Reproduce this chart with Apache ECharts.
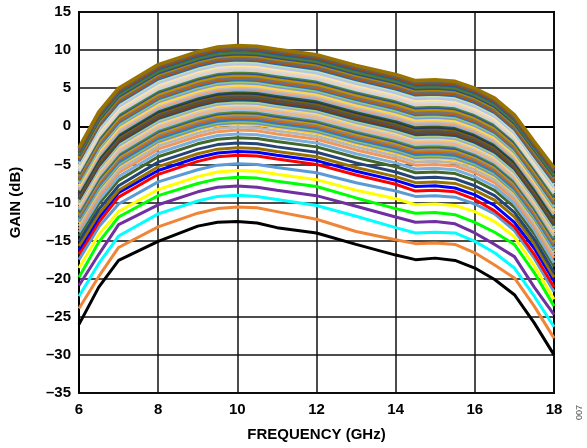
<!DOCTYPE html>
<html><head><meta charset="utf-8">
<script src="https://cdn.jsdelivr.net/npm/echarts@6/dist/echarts.min.js"></script>
<style>html,body{margin:0;padding:0;background:#fff}#c{width:587px;height:448px}</style>
</head><body><div id="c"></div>
<script>
const freqGHz = [6, 6.5, 7, 8, 9, 9.5, 10, 10.5, 11, 12, 13, 14, 14.5, 15, 15.5, 16, 16.5, 17, 17.5, 18];
const xTicks = [6, 8, 10, 12, 14, 16, 18];
const yTicks = [-35, -30, -25, -20, -15, -10, -5, 0, 5, 10, 15];
const xTitle = 'FREQUENCY (GHz)';
const yTitle = 'GAIN (dB)';
const figNote = '007';

// gain states, lowest (s01) to highest (s64), dB at freqGHz
const gainS01 = [-26.0, -21.1, -17.6, -15.1, -13.1, -12.6, -12.5, -12.7, -13.3, -14.0, -15.5, -16.9, -17.5, -17.3, -17.6, -18.6, -20.1, -22.1, -25.8, -30.0];
const gainS02 = [-23.9, -19.7, -15.9, -13.2, -11.4, -10.8, -10.6, -10.7, -11.2, -12.2, -13.8, -14.9, -15.4, -15.3, -15.5, -16.6, -18.2, -19.9, -23.6, -27.8];
const gainS03 = [-22.3, -18.0, -14.4, -11.5, -9.8, -9.2, -9.05, -9.2, -9.6, -10.4, -11.8, -13.3, -14.0, -13.9, -14.0, -15.1, -16.6, -18.6, -22.3, -26.3];
const gainS04 = [-20.9, -16.8, -12.9, -10.3, -8.6, -8.0, -7.85, -8.0, -8.4, -9.1, -10.5, -11.9, -12.6, -12.5, -12.8, -14.0, -15.5, -17.1, -21.1, -24.7];
const gainS05 = [-19.8, -15.2, -11.9, -9.1, -7.5, -6.9, -6.7, -6.8, -7.2, -7.9, -9.4, -10.8, -11.4, -11.3, -11.6, -12.6, -13.9, -15.5, -19.2, -23.6];
const gainS06 = [-18.6, -14.2, -11.2, -8.3, -6.6, -6.0, -5.8, -5.9, -6.3, -7.0, -8.4, -9.5, -10.3, -10.2, -10.4, -11.2, -12.5, -14.5, -18.3, -22.7];
const gainS07 = [-17.5, -13.2, -10.2, -7.3, -5.7, -5.1, -4.9, -5.0, -5.4, -6.1, -7.4, -8.5, -9.2, -9.1, -9.3, -10.2, -11.5, -13.7, -17.3, -21.7];
const gainS08 = [-16.8, -12.6, -9.3, -6.3, -4.6, -4.0, -3.8, -3.9, -4.3, -5.0, -6.4, -7.6, -8.5, -8.4, -8.6, -9.6, -11.1, -13.2, -16.8, -21.1];
const gainS09 = [-16.2, -12.0, -8.7, -5.8, -4.1, -3.5, -3.3, -3.4, -3.8, -4.5, -5.9, -7.1, -7.9, -7.8, -8.1, -9.0, -10.4, -12.6, -16.0, -20.3];
const gainS10 = [-15.7, -11.5, -8.4, -5.3, -3.6, -3.0, -2.8, -2.9, -3.3, -4.0, -5.4, -6.6, -7.4, -7.3, -7.5, -8.4, -9.7, -11.9, -15.4, -19.8];
const gainS11 = [-15.1, -10.9, -7.8, -4.7, -3.0, -2.4, -2.2, -2.3, -2.7, -3.4, -4.8, -6.0, -6.8, -6.7, -6.9, -7.8, -9.1, -11.3, -14.8, -19.2];
const gainS12 = [-14.4, -10.2, -7.1, -4.0, -2.3, -1.7, -1.5, -1.6, -2.0, -2.7, -4.1, -5.3, -6.1, -6.0, -6.2, -7.1, -8.4, -10.6, -14.1, -18.4];
const gainS13 = [-13.9, -9.7, -6.6, -3.5, -1.8, -1.2, -1.0, -1.1, -1.5, -2.2, -3.6, -4.8, -5.6, -5.5, -5.7, -6.6, -7.9, -10.1, -13.6, -17.9];
const gainS14 = [-13.5, -9.2, -6.1, -3.0, -1.3, -0.7, -0.5, -0.6, -1.0, -1.7, -3.1, -4.3, -5.1, -5.0, -5.2, -6.1, -7.4, -9.6, -13.1, -17.3];
const gainS15 = [-13.1, -8.8, -5.7, -2.6, -0.9, -0.3, -0.1, -0.2, -0.6, -1.3, -2.7, -3.9, -4.7, -4.6, -4.8, -5.7, -7.0, -9.2, -12.7, -16.9];
const gainS16 = [-12.7, -8.4, -5.3, -2.2, -0.5, 0.1, 0.3, 0.2, -0.2, -0.9, -2.3, -3.5, -4.3, -4.2, -4.4, -5.3, -6.6, -8.8, -12.3, -16.5];
const gainS17 = [-12.5, -8.2, -5.1, -2.0, -0.3, 0.3, 0.5, 0.4, 0.0, -0.7, -2.1, -3.3, -4.1, -4.0, -4.2, -5.1, -6.4, -8.6, -12.1, -16.3];
const gainS18 = [-12.3, -8.0, -4.9, -1.8, -0.1, 0.5, 0.7, 0.6, 0.2, -0.5, -1.9, -3.1, -3.9, -3.8, -4.0, -4.9, -6.2, -8.4, -11.9, -16.0];
const gainS19 = [-12.1, -7.8, -4.7, -1.6, 0.1, 0.7, 0.9, 0.8, 0.4, -0.3, -1.7, -2.9, -3.7, -3.6, -3.8, -4.7, -6.0, -8.2, -11.7, -15.8];
const gainS20 = [-11.8, -7.5, -4.4, -1.3, 0.4, 1.0, 1.2, 1.1, 0.7, 0.0, -1.4, -2.6, -3.4, -3.3, -3.5, -4.4, -5.7, -7.9, -11.4, -15.5];
const gainS21 = [-11.6, -7.3, -4.2, -1.1, 0.6, 1.2, 1.4, 1.3, 0.9, 0.2, -1.2, -2.4, -3.2, -3.1, -3.3, -4.2, -5.5, -7.7, -11.2, -15.3];
const gainS22 = [-11.4, -7.1, -4.0, -0.9, 0.8, 1.4, 1.6, 1.5, 1.1, 0.4, -1.0, -2.2, -3.0, -2.9, -3.1, -4.0, -5.3, -7.5, -11.0, -15.1];
const gainS23 = [-11.3, -6.9, -3.8, -0.7, 1.0, 1.6, 1.8, 1.7, 1.3, 0.6, -0.8, -2.0, -2.8, -2.7, -2.9, -3.8, -5.1, -7.3, -10.8, -14.9];
const gainS24 = [-11.1, -6.7, -3.6, -0.5, 1.2, 1.8, 2.0, 1.9, 1.5, 0.8, -0.6, -1.8, -2.6, -2.5, -2.7, -3.6, -4.9, -7.1, -10.6, -14.7];
const gainS25 = [-10.9, -6.5, -3.4, -0.3, 1.4, 2.0, 2.2, 2.1, 1.7, 1.0, -0.4, -1.6, -2.4, -2.3, -2.5, -3.4, -4.7, -6.9, -10.4, -14.4];
const gainS26 = [-10.7, -6.3, -3.2, -0.1, 1.6, 2.2, 2.4, 2.3, 1.9, 1.2, -0.2, -1.4, -2.2, -2.1, -2.3, -3.2, -4.5, -6.7, -10.2, -14.2];
const gainS27 = [-10.4, -6.0, -2.9, 0.2, 1.9, 2.5, 2.7, 2.6, 2.2, 1.5, 0.1, -1.1, -1.9, -1.8, -2.0, -2.9, -4.2, -6.4, -9.9, -13.9];
const gainS28 = [-10.2, -5.8, -2.7, 0.4, 2.1, 2.7, 2.9, 2.8, 2.4, 1.7, 0.3, -0.9, -1.7, -1.6, -1.8, -2.7, -4.0, -6.2, -9.7, -13.7];
const gainS29 = [-10.0, -5.6, -2.5, 0.6, 2.3, 2.9, 3.1, 3.0, 2.6, 1.9, 0.5, -0.7, -1.5, -1.4, -1.6, -2.5, -3.8, -6.0, -9.5, -13.5];
const gainS30 = [-9.8, -5.4, -2.3, 0.8, 2.5, 3.1, 3.3, 3.2, 2.8, 2.1, 0.7, -0.5, -1.3, -1.2, -1.4, -2.3, -3.6, -5.8, -9.3, -13.3];
const gainS31 = [-9.6, -5.2, -2.1, 1.0, 2.7, 3.3, 3.5, 3.4, 3.0, 2.3, 0.9, -0.3, -1.1, -1.0, -1.2, -2.1, -3.4, -5.6, -9.1, -13.0];
const gainS32 = [-9.4, -5.0, -1.9, 1.2, 2.9, 3.5, 3.7, 3.6, 3.2, 2.5, 1.1, -0.1, -0.9, -0.8, -1.0, -1.9, -3.2, -5.4, -8.9, -12.8];
const gainS33 = [-9.2, -4.8, -1.7, 1.4, 3.1, 3.7, 3.9, 3.8, 3.4, 2.7, 1.3, 0.1, -0.7, -0.6, -0.8, -1.7, -3.0, -5.2, -8.7, -12.6];
const gainS34 = [-8.9, -4.5, -1.4, 1.7, 3.4, 4.0, 4.2, 4.1, 3.7, 3.0, 1.6, 0.4, -0.4, -0.3, -0.5, -1.4, -2.7, -4.9, -8.4, -12.3];
const gainS35 = [-8.8, -4.3, -1.2, 1.9, 3.6, 4.2, 4.4, 4.3, 3.9, 3.2, 1.8, 0.6, -0.2, -0.1, -0.3, -1.2, -2.5, -4.7, -8.2, -12.1];
const gainS36 = [-8.6, -4.1, -1.0, 2.1, 3.8, 4.4, 4.6, 4.5, 4.1, 3.4, 2.0, 0.8, 0.0, 0.1, -0.1, -1.0, -2.3, -4.5, -8.0, -11.9];
const gainS37 = [-8.4, -3.9, -0.8, 2.3, 4.0, 4.6, 4.8, 4.7, 4.3, 3.6, 2.2, 1.0, 0.2, 0.3, 0.1, -0.8, -2.1, -4.3, -7.8, -11.6];
const gainS38 = [-8.2, -3.7, -0.6, 2.5, 4.2, 4.8, 5.0, 4.9, 4.5, 3.8, 2.4, 1.2, 0.4, 0.5, 0.3, -0.6, -1.9, -4.1, -7.6, -11.4];
const gainS39 = [-8.0, -3.5, -0.4, 2.7, 4.4, 5.0, 5.2, 5.1, 4.7, 4.0, 2.6, 1.4, 0.6, 0.7, 0.5, -0.4, -1.7, -3.9, -7.4, -11.2];
const gainS40 = [-7.8, -3.3, -0.2, 2.9, 4.6, 5.2, 5.4, 5.3, 4.9, 4.2, 2.8, 1.6, 0.8, 0.9, 0.7, -0.2, -1.5, -3.7, -7.2, -11.0];
const gainS41 = [-7.5, -3.0, 0.1, 3.2, 4.9, 5.5, 5.7, 5.6, 5.2, 4.5, 3.1, 1.9, 1.1, 1.2, 1.0, 0.1, -1.2, -3.4, -6.9, -10.7];
const gainS42 = [-7.3, -2.8, 0.3, 3.4, 5.1, 5.7, 5.9, 5.8, 5.4, 4.7, 3.3, 2.1, 1.3, 1.4, 1.2, 0.3, -1.0, -3.2, -6.7, -10.5];
const gainS43 = [-7.1, -2.6, 0.5, 3.6, 5.3, 5.9, 6.1, 6.0, 5.6, 4.9, 3.5, 2.3, 1.5, 1.6, 1.4, 0.5, -0.8, -3.0, -6.5, -10.2];
const gainS44 = [-6.9, -2.4, 0.7, 3.8, 5.5, 6.1, 6.3, 6.2, 5.8, 5.1, 3.7, 2.5, 1.7, 1.8, 1.6, 0.7, -0.6, -2.8, -6.3, -10.0];
const gainS45 = [-6.7, -2.2, 0.9, 4.0, 5.7, 6.3, 6.5, 6.4, 6.0, 5.3, 3.9, 2.7, 1.9, 2.0, 1.8, 0.9, -0.4, -2.6, -6.1, -9.8];
const gainS46 = [-6.5, -2.0, 1.1, 4.2, 5.9, 6.5, 6.7, 6.6, 6.2, 5.5, 4.1, 2.9, 2.1, 2.2, 2.0, 1.1, -0.2, -2.4, -5.9, -9.6];
const gainS47 = [-6.3, -1.7, 1.4, 4.5, 6.2, 6.8, 7.0, 6.9, 6.5, 5.8, 4.4, 3.2, 2.4, 2.5, 2.3, 1.4, 0.1, -2.1, -5.6, -9.3];
const gainS48 = [-6.1, -1.5, 1.6, 4.7, 6.4, 7.0, 7.2, 7.1, 6.7, 6.0, 4.6, 3.4, 2.6, 2.7, 2.5, 1.6, 0.3, -1.9, -5.4, -9.1];
const gainS49 = [-5.9, -1.3, 1.8, 4.9, 6.6, 7.2, 7.4, 7.3, 6.9, 6.2, 4.8, 3.6, 2.8, 2.9, 2.7, 1.8, 0.5, -1.7, -5.2, -8.8];
const gainS50 = [-5.7, -1.1, 2.0, 5.1, 6.8, 7.4, 7.6, 7.5, 7.1, 6.4, 5.0, 3.8, 3.0, 3.1, 2.9, 2.0, 0.7, -1.5, -5.0, -8.6];
const gainS51 = [-5.5, -0.9, 2.2, 5.3, 7.0, 7.6, 7.8, 7.7, 7.3, 6.6, 5.2, 4.0, 3.2, 3.3, 3.1, 2.2, 0.9, -1.3, -4.8, -8.4];
const gainS52 = [-5.3, -0.7, 2.4, 5.5, 7.2, 7.8, 8.0, 7.9, 7.5, 6.8, 5.4, 4.2, 3.4, 3.5, 3.3, 2.4, 1.1, -1.1, -4.6, -8.2];
const gainS53 = [-5.1, -0.5, 2.6, 5.7, 7.4, 8.0, 8.2, 8.1, 7.7, 7.0, 5.6, 4.4, 3.6, 3.7, 3.5, 2.6, 1.3, -0.9, -4.4, -8.0];
const gainS54 = [-4.8, -0.2, 2.9, 6.0, 7.7, 8.3, 8.5, 8.4, 8.0, 7.3, 5.9, 4.7, 3.9, 4.0, 3.8, 2.9, 1.6, -0.6, -4.1, -7.7];
const gainS55 = [-4.6, 0.0, 3.1, 6.2, 7.9, 8.5, 8.7, 8.6, 8.2, 7.5, 6.1, 4.9, 4.1, 4.2, 4.0, 3.1, 1.8, -0.4, -3.9, -7.4];
const gainS56 = [-4.4, 0.2, 3.3, 6.4, 8.1, 8.7, 8.9, 8.8, 8.4, 7.7, 6.3, 5.1, 4.3, 4.4, 4.2, 3.3, 2.0, -0.2, -3.7, -7.2];
const gainS57 = [-4.2, 0.4, 3.5, 6.6, 8.3, 8.9, 9.1, 9.0, 8.6, 7.9, 6.5, 5.3, 4.5, 4.6, 4.4, 3.5, 2.2, 0.0, -3.5, -7.0];
const gainS58 = [-4.1, 0.6, 3.7, 6.8, 8.5, 9.1, 9.3, 9.2, 8.8, 8.1, 6.7, 5.5, 4.7, 4.8, 4.6, 3.7, 2.4, 0.2, -3.3, -6.8];
const gainS59 = [-3.9, 0.8, 3.9, 7.0, 8.7, 9.3, 9.5, 9.4, 9.0, 8.3, 6.9, 5.7, 4.9, 5.0, 4.8, 3.9, 2.6, 0.4, -3.1, -6.6];
const gainS60 = [-3.7, 1.0, 4.1, 7.2, 8.9, 9.5, 9.7, 9.6, 9.2, 8.5, 7.1, 5.9, 5.1, 5.2, 5.0, 4.1, 2.8, 0.6, -2.9, -6.4];
const gainS61 = [-3.4, 1.3, 4.4, 7.5, 9.2, 9.8, 10.0, 9.9, 9.5, 8.8, 7.4, 6.2, 5.4, 5.5, 5.3, 4.4, 3.1, 0.9, -2.6, -6.0];
const gainS62 = [-3.2, 1.5, 4.6, 7.7, 9.4, 10.0, 10.2, 10.1, 9.7, 9.0, 7.6, 6.4, 5.6, 5.7, 5.5, 4.6, 3.3, 1.1, -2.4, -5.8];
const gainS63 = [-3.0, 1.7, 4.8, 7.9, 9.6, 10.2, 10.4, 10.3, 9.9, 9.2, 7.8, 6.6, 5.8, 5.9, 5.7, 4.8, 3.5, 1.3, -2.2, -5.6];
const gainS64 = [-2.8, 1.9, 5.0, 8.1, 9.8, 10.4, 10.6, 10.5, 10.1, 9.4, 8.0, 6.8, 6.0, 6.1, 5.9, 5.0, 3.7, 1.5, -2.0, -5.4];

const gainStates = [gainS01, gainS02, gainS03, gainS04, gainS05, gainS06, gainS07, gainS08, gainS09, gainS10,
  gainS11, gainS12, gainS13, gainS14, gainS15, gainS16, gainS17, gainS18, gainS19, gainS20,
  gainS21, gainS22, gainS23, gainS24, gainS25, gainS26, gainS27, gainS28, gainS29, gainS30,
  gainS31, gainS32, gainS33, gainS34, gainS35, gainS36, gainS37, gainS38, gainS39, gainS40,
  gainS41, gainS42, gainS43, gainS44, gainS45, gainS46, gainS47, gainS48, gainS49, gainS50,
  gainS51, gainS52, gainS53, gainS54, gainS55, gainS56, gainS57, gainS58, gainS59, gainS60,
  gainS61, gainS62, gainS63, gainS64];

const lineColors = ['#000000', '#F08538', '#00FFFF', '#7030A0', '#00FF00', '#FFFF00', '#5B9BD5', '#FF0000', '#0000FF', '#997300',
  '#264478', '#43682B', '#7CAFDD', '#F1975A', '#B7B7B7', '#FFCD33', '#698ED0', '#8CC168', '#327DC2', '#D26012',
  '#848484', '#CC9A00', '#335AA1', '#5A8A39', '#9DC3E6', '#F4B183', '#C9C9C9', '#FFD966', '#8FAADC', '#A9D18E',
  '#1F4E79', '#843C0C', '#525252', '#7F6000', '#203864', '#385723', '#8DB4E2', '#F3A36F', '#C0C0C0', '#FFD54F',
  '#7C9DD6', '#9BC97B', '#2E75B6', '#C55A11', '#747474', '#BF9000', '#2F5597', '#548235', '#BDD7EE', '#F8CBAD',
  '#DBDBDB', '#FFE699', '#B4C7E7', '#C5E0B4', '#2A6AA6', '#B15211', '#6B6B6B', '#B38600', '#2C4E8E', '#4E7A32',
  '#255E91', '#9E480E', '#636363', '#997300'];

const fmt = v => String(v).replace('-', '\u2013');
const series = gainStates.map((vals, i) => ({
  type: 'line',
  data: freqGHz.map((f, j) => [f, vals[j]]),
  showSymbol: false,
  symbol: 'none',
  smooth: false,
  lineStyle: { color: lineColors[i], width: i === gainStates.length - 1 ? 3.5 : 3 },
  z: 2 + i * 0.001,
  silent: true
}));

const chart = echarts.init(document.getElementById('c'), null, { renderer: 'canvas' });
chart.setOption({
  animation: false,
  backgroundColor: '#ffffff',
  grid: { left: 78, right: 33, top: 12, bottom: 55, show: true, borderColor: '#000', borderWidth: 2, backgroundColor: 'transparent' },
  xAxis: {
    type: 'value', min: xTicks[0], max: xTicks[xTicks.length - 1], interval: 2,
    name: xTitle, nameLocation: 'middle', nameGap: 34,
    nameTextStyle: { fontFamily: 'Liberation Sans, Arial', fontWeight: 'bold', fontSize: 15, color: '#000' },
    axisLine: { show: true, lineStyle: { color: '#000', width: 2 } },
    axisTick: { show: false },
    axisLabel: { margin: 9, fontFamily: 'Liberation Sans, Arial', fontWeight: 'bold', fontSize: 15, color: '#000', formatter: fmt },
    splitLine: { show: true, lineStyle: { color: '#111', width: 1.5 } }
  },
  yAxis: {
    type: 'value', min: yTicks[0], max: yTicks[yTicks.length - 1], interval: 5,
    name: yTitle, nameLocation: 'middle', nameGap: 56, nameRotate: 90,
    nameTextStyle: { fontFamily: 'Liberation Sans, Arial', fontWeight: 'bold', fontSize: 15, color: '#000' },
    axisLine: { show: true, lineStyle: { color: '#000', width: 2 } },
    axisTick: { show: false },
    axisLabel: { margin: 8, fontFamily: 'Liberation Sans, Arial', fontWeight: 'bold', fontSize: 15, color: '#000', formatter: fmt },
    splitLine: { show: true, lineStyle: { color: '#111', width: 1.5 } }
  },
  graphic: [{
    type: 'text', left: 575, top: 405, rotation: Math.PI / 2,
    style: { text: figNote, fill: '#555', font: '9px Liberation Sans, Arial' }
  }],
  series: series
});
</script>
</body></html>
